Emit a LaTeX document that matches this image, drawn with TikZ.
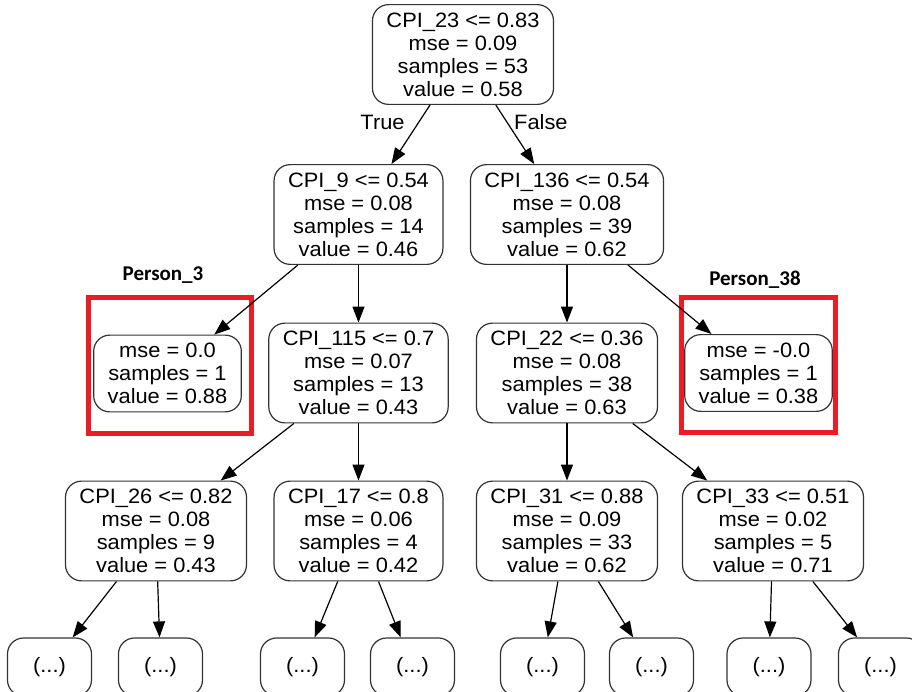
\documentclass[tikz,border=0pt]{standalone}
\usepackage{fontspec}
\setmainfont{Liberation Sans}[FakeStretch=1.05]
\newfontfamily\tagfont{Carlito}
\usetikzlibrary{positioning}
\usetikzlibrary{arrows.meta}
\usetikzlibrary{calc}
\definecolor{markred}{RGB}{237,28,36}
\newcommand\treefont{\fontsize{10.4}{11.5}\selectfont}

\begin{document}
\begin{tikzpicture}[on grid, font=\treefont,
	split/.style={draw=black!80, line width=0.6pt, rounded corners=8pt, align=center, inner xsep=7pt, inner ysep=4pt},
	leaf/.style={split},
	more/.style={draw=black!80, line width=0.6pt, rounded corners=8pt, minimum width=42pt, minimum height=29pt},
	link/.style={line width=0.6pt, -{Triangle[length=8pt,width=6pt]}},
	tag/.style={font=\tagfont\bfseries\fontsize{10.5}{12}\selectfont},
	markbox/.style={draw=markred, line width=2.5pt}]
	\clip (-231.5pt,27.25pt) rectangle (224.5pt,-318.75pt);
	\node [split] at (0,0) (root) {CPI\_23 <= 0.83\\mse = 0.09\\samples = 53\\value = 0.58};
	\node [split, below left=80pt and 52.25pt of root] (c9) {CPI\_9 <= 0.54\\mse = 0.08\\samples = 14\\value = 0.46};
	\node [split, below right=80pt and 52pt of root] (c136) {CPI\_136 <= 0.54\\mse = 0.08\\samples = 39\\value = 0.62};
	\node [leaf, below left=79.5pt and 95.5pt of c9] (p3) {mse = 0.0\\samples = 1\\value = 0.88};
	\node [split, below=79.25pt of c9] (c115) {CPI\_115 <= 0.7\\mse = 0.07\\samples = 13\\value = 0.43};
	\node [split, below=79.25pt of c136] (c22) {CPI\_22 <= 0.36\\mse = 0.08\\samples = 38\\value = 0.63};
	\node [leaf, below right=79.25pt and 95.75pt of c136] (p38) {mse = -0.0\\samples = 1\\value = 0.38};
	\node [split, below left=79pt and 101.25pt of c115] (c26) {CPI\_26 <= 0.82\\mse = 0.08\\samples = 9\\value = 0.43};
	\node [split, below=79pt of c115] (c17) {CPI\_17 <= 0.8\\mse = 0.06\\samples = 4\\value = 0.42};
	\node [split, below=79pt of c22] (c31) {CPI\_31 <= 0.88\\mse = 0.09\\samples = 33\\value = 0.62};
	\node [split, below right=79pt and 103pt of c22] (c33) {CPI\_33 <= 0.51\\mse = 0.02\\samples = 5\\value = 0.71};
	\node [more, below left=68pt and 53.25pt of c26] (b1) {(...)};
	\node [more, below right=68pt and 2.25pt of c26] (b2) {(...)};
	\node [more, below left=68pt and 28pt of c17] (b3) {(...)};
	\node [more, below right=68pt and 27pt of c17] (b4) {(...)};
	\node [more, below left=68pt and 12.25pt of c31] (b5) {(...)};
	\node [more, below right=68pt and 42.25pt of c31] (b6) {(...)};
	\node [more, below left=68pt and 2pt of c33] (b7) {(...)};
	\node [more, below right=68pt and 53.75pt of c33] (b8) {(...)};
	% marked leaves
	\node [tag, above left=49.25pt and 2.25pt of p3] (t3) {Person\_3};
	\node [tag, above left=46.5pt and 1.75pt of p38] (t38) {Person\_38};
	\draw [markbox] ($(p3)+(-39.5pt,38pt)$) rectangle ($(p3)+(42pt,-30pt)$);
	\draw [markbox] ($(p38)+(-38.5pt,37.75pt)$) rectangle ($(p38)+(38.5pt,-29.75pt)$);
	% branches
	\draw [link] (root) -- node [pos=0.29, left=3.5pt] {True} (c9);
	\draw [link] (root) -- node [pos=0.29, right=0pt] {False} (c136);
	\draw [link] (c9) -- (p3);
	\draw [link] (c9) -- (c115);
	\draw [link] (c136) -- (c22);
	\draw [link] (c136) -- (p38);
	\draw [link] (c115) -- (c26);
	\draw [link] (c115) -- (c17);
	\draw [link] (c22) -- (c31);
	\draw [link] (c22) -- (c33);
	\draw [link] (c26) -- (b1);
	\draw [link] (c26) -- (b2);
	\draw [link] (c17) -- (b3);
	\draw [link] (c17) -- (b4);
	\draw [link] (c31) -- (b5);
	\draw [link] (c31) -- (b6);
	\draw [link] (c33) -- (b7);
	\draw [link] (c33) -- (b8);
\end{tikzpicture}
\end{document}
